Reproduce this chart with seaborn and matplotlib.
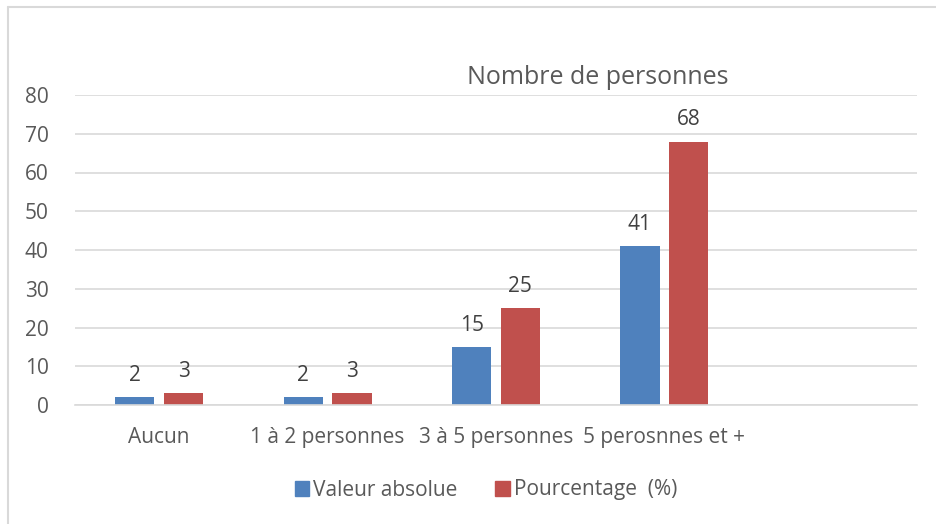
import pandas as pd
import matplotlib.pyplot as plt
import seaborn as sns
from matplotlib.patches import Rectangle
from matplotlib.lines import Line2D

categories = ["Aucun", "1 à 2 personnes", "3 à 5 personnes", "5 perosnnes et +"]
valeur_absolue = [2, 2, 15, 41]
pourcentage = [3, 3, 25, 68]
series = ["Valeur absolue", "Pourcentage  (%)"]

df = pd.DataFrame({
    "cat": categories * 2,
    "val": valeur_absolue + pourcentage,
    "serie": [series[0]] * 4 + [series[1]] * 4,
})

sns.set_style("white")
plt.rcParams['font.family'] = ['Open Sans', 'DejaVu Sans']
grey = "#595959"
W, H = 937, 524

fig = plt.figure(figsize=(9.37, 5.24), dpi=100)
ax = fig.add_axes([75 / W, 1 - 405 / H, 842 / W, 310 / H])

sns.barplot(data=df, x="cat", y="val", hue="serie", order=categories,
            palette=["#4F81BD", "#C0504D"], width=0.58, gap=0.2,
            saturation=1, linewidth=0, ax=ax, legend=False)

for c in ax.containers:
    ax.bar_label(c, padding=8, fontsize=15, color="#404040")

ax.set_xlim(-0.5, 4.5)
ax.set_ylim(0, 80)
ax.set_yticks(range(0, 81, 10))
ax.yaxis.grid(True, color="#D9D9D9", linewidth=1.2)
ax.set_axisbelow(True)
for s in ["top", "right", "left"]:
    ax.spines[s].set_visible(False)
ax.spines["bottom"].set_color("#D9D9D9")
ax.spines["bottom"].set_linewidth(1.2)
ax.tick_params(axis="both", length=0, labelsize=15, labelcolor=grey)
ax.tick_params(axis="x", pad=16)
ax.tick_params(axis="y", pad=19)
ax.set_xlabel("")
ax.set_ylabel("")

fig.text(598 / W, 1 - 78 / H, "Nombre de personnes", ha="center", va="center",
         fontsize=18, color=grey)

handles = [Rectangle((0, 0), 1, 1, color="#4F81BD"), Rectangle((0, 0), 1, 1, color="#C0504D")]
fig.legend(handles, series, loc="center", bbox_to_anchor=(486 / W, 1 - 490 / H),
           ncol=2, frameon=False, fontsize=15, labelcolor=grey,
           handlelength=0.7, handleheight=0.7, handletextpad=0.2, columnspacing=1.8)

# chart frame: only top and left edges visible in the crop
fig.add_artist(Line2D([8 / W, 1], [1 - 6.5 / H, 1 - 6.5 / H], transform=fig.transFigure,
                      color="#D9D9D9", linewidth=1.5))
fig.add_artist(Line2D([8 / W, 8 / W], [0, 1 - 6.5 / H], transform=fig.transFigure,
                      color="#D9D9D9", linewidth=1.5))

fig.savefig("out.png", dpi=100, facecolor="white")
